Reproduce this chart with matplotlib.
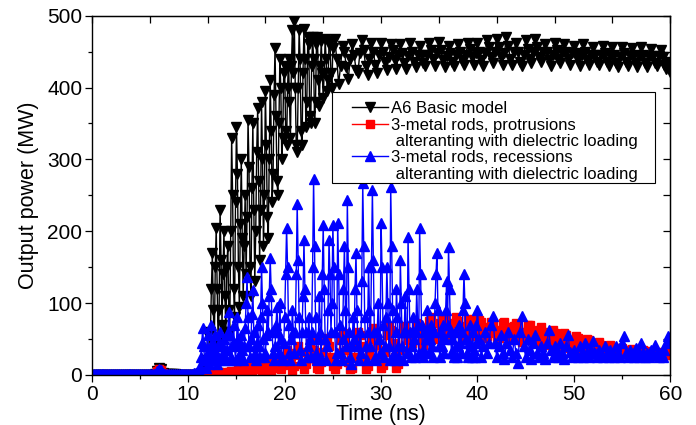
import numpy as np
import matplotlib
matplotlib.use("Agg")
import matplotlib.pyplot as plt
from matplotlib.ticker import MultipleLocator
from matplotlib.lines import Line2D
from matplotlib.patches import Rectangle

plt.rcParams['font.family'] = ['Liberation Sans', 'DejaVu Sans']

# sample times (ns): 0.2 ns steps, 0.1 ns where the signal is busy
t_red = np.linspace(0, 60, 301)
t_black = np.concatenate([np.linspace(0, 10.8, 55), np.linspace(11, 24.9, 140),
                          np.linspace(25, 60, 176)])
t_blue = np.concatenate([np.linspace(0, 10.8, 55), np.linspace(11, 39.9, 290),
                         np.linspace(40, 60, 101)])

# A6 basic model (MW)
black_mw = [
    # 0 - 10.8 ns
    0, 0, 0, 0, 0, 0, 0, 0, 0, 0,
    0, 0, 0, 0, 0, 0, 0, 0, 0, 0,
    0, 0, 0, 0, 0, 0, 0, 0, 0, 0,
    0, 0, 0, 1, 6, 9, 8, 3, 1, 1,
    1, 1, 1, 1, 0, 0, 0, 0, 0, 0,
    0, 0, 0, 0, 0,
    # 11 - 24.9 ns, one row per ns
    0, 1, 1, 2, 2, 3, 5, 8, 12, 20,
    55, 30, 15, 60, 120, 170, 90, 40, 150, 205,
    120, 45, 90, 230, 160, 70, 140, 200, 110, 60,
    150, 180, 90, 60, 200, 330, 250, 120, 80, 240,
    345, 280, 150, 95, 210, 300, 190, 110, 180, 250,
    140, 220, 355, 290, 150, 110, 260, 350, 230, 130,
    200, 310, 372, 270, 160, 230, 380, 300, 180, 250,
    395, 320, 220, 190, 300, 410, 340, 240, 280, 390,
    455, 360, 270, 250, 350, 440, 400, 300, 330, 420,
    430, 340, 320, 400, 440, 380, 330, 430, 480, 420,
    492, 400, 320, 310, 400, 480, 440, 340, 320, 420,
    482, 440, 345, 380, 470, 460, 360, 350, 430, 470,
    440, 350, 380, 460, 470, 410, 375, 430, 465, 420,
    385, 420, 468, 440, 395, 410, 460, 465, 420, 400,
    # 25 - 60 ns
    455, 468, 440, 405, 430,
    458, 450, 428, 412, 440, 460, 446, 425, 420, 448,
    466, 452, 430, 418, 440, 462, 450, 432, 420, 445,
    462, 450, 436, 424, 442, 460, 452, 438, 426, 446,
    460, 448, 434, 426, 444, 462, 450, 436, 428, 446,
    458, 446, 434, 430, 446, 462, 452, 440, 430, 448,
    464, 452, 438, 428, 444, 458, 448, 436, 430, 446,
    460, 450, 438, 432, 446, 462, 454, 442, 432, 448,
    462, 450, 438, 430, 448, 466, 456, 442, 434, 450,
    468, 456, 442, 432, 448, 470, 458, 440, 432, 450,
    462, 450, 436, 430, 446, 466, 454, 440, 434, 450,
    468, 456, 442, 436, 450, 460, 450, 438, 430, 446,
    462, 452, 440, 434, 448, 460, 450, 440, 432, 448,
    458, 448, 438, 430, 446, 460, 450, 438, 432, 446,
    456, 446, 436, 432, 446, 458, 448, 436, 430, 444,
    456, 446, 434, 428, 442, 456, 448, 436, 430, 444,
    455, 446, 434, 428, 444, 456, 446, 434, 428, 442,
    454, 444, 434, 430, 444, 452, 442, 432, 426, 436,
    422,
]

# protrusions alternating with dielectric loading (MW), every 0.2 ns
red_mw = [
    0, 0, 0, 0, 0, 0, 0, 0, 0, 0,
    0, 0, 0, 0, 0, 0, 0, 0, 0, 0,
    0, 0, 0, 0, 0, 0, 0, 0, 0, 0,
    0, 0, 0, 1, 5, 8, 7, 3, 1, 0,
    0, 0, 0, 0, 0, 0, 0, 0, 0, 0,
    0, 0, 0, 0, 0, 0, 0, 0, 0, 1,
    1, 2, 2, 3, 2, 3, 4, 3, 4, 3,
    3, 4, 5, 4, 3, 5, 7, 6, 4, 6,
    10, 14, 8, 4, 8, 15, 18, 10, 5, 9,
    16, 20, 12, 6, 10, 18, 24, 16, 8, 14,
    26, 35, 30, 15, 7, 12, 28, 40, 32, 15,
    8, 15, 30, 45, 48, 35, 20, 10, 8, 18,
    32, 48, 52, 40, 25, 12, 8, 15, 30, 48,
    58, 50, 35, 18, 8, 10, 25, 45, 60, 55,
    40, 22, 8, 12, 28, 50, 65, 60, 42, 22,
    9, 14, 32, 55, 68, 62, 45, 25, 10, 15,
    35, 58, 68, 60, 48, 40, 45, 60, 72, 70,
    60, 48, 42, 48, 62, 75, 80, 72, 58, 50,
    52, 65, 78, 80, 70, 56, 50, 58, 72, 80,
    75, 62, 52, 55, 68, 78, 76, 64, 54, 56,
    66, 76, 74, 62, 52, 54, 66, 74, 70, 58,
    50, 52, 62, 72, 74, 66, 54, 48, 56, 68,
    72, 68, 56, 46, 48, 60, 70, 70, 60, 48,
    44, 50, 62, 66, 60, 48, 42, 46, 56, 62,
    58, 48, 40, 42, 52, 58, 56, 46, 38, 40,
    48, 54, 52, 44, 36, 38, 46, 50, 48, 40,
    34, 36, 44, 46, 42, 36, 32, 34, 40, 42,
    38, 32, 30, 34, 38, 38, 34, 30, 30, 34,
    36, 34, 30, 28, 30, 34, 34, 30, 28, 30,
    33, 32, 29, 28, 30, 32, 31, 28, 27, 30,
    31,
]

# recessions alternating with dielectric loading (MW)
blue_mw = [
    # 0 - 10.8 ns
    1, 1, 1, 1, 1, 1, 1, 1, 1, 1,
    1, 1, 1, 1, 1, 1, 1, 1, 1, 1,
    1, 1, 1, 1, 1, 1, 1, 1, 1, 1,
    1, 1, 1, 1, 5, 8, 7, 3, 1, 1,
    1, 1, 1, 1, 1, 1, 1, 1, 1, 1,
    1, 1, 1, 2, 3,
    # 11 - 39.9 ns, one row per ns
    2, 5, 12, 25, 45, 65, 40, 20, 10, 25,
    55, 35, 15, 30, 70, 45, 20, 35, 55, 30,
    15, 25, 45, 60, 40, 20, 30, 50, 35, 20,
    35, 60, 88, 55, 25, 20, 45, 70, 40, 20,
    45, 81, 50, 25, 30, 55, 35, 20, 40, 65,
    100, 136, 80, 40, 25, 50, 85, 118, 60, 30,
    20, 45, 70, 40, 25, 80, 150, 100, 50, 25,
    30, 55, 90, 60, 110, 162, 120, 60, 30, 20,
    40, 70, 95, 60, 30, 100, 50, 25, 20, 45,
    80, 140, 205, 150, 70, 30, 20, 50, 90, 60,
    30, 60, 140, 238, 160, 80, 35, 20, 60, 110,
    188, 120, 60, 25, 40, 80, 50, 25, 60, 150,
    272, 180, 80, 30, 20, 50, 110, 60, 25, 140,
    208, 120, 50, 20, 40, 90, 188, 140, 60, 100,
    209, 150, 60, 20, 30, 212, 140, 70, 30, 20,
    50, 120, 180, 90, 40, 243, 150, 60, 25, 15,
    40, 80, 50, 120, 170, 90, 40, 20, 60, 30,
    130, 267, 180, 80, 40, 20, 60, 150, 90, 40,
    150, 258, 160, 60, 25, 20, 60, 100, 50, 30,
    212, 150, 70, 25, 40, 80, 150, 100, 40, 20,
    262, 180, 90, 30, 20, 60, 120, 80, 40, 25,
    160, 100, 40, 20, 60, 110, 60, 30, 192, 120,
    60, 25, 40, 80, 50, 25, 60, 120, 70, 30,
    205, 140, 70, 35, 25, 60, 30, 50, 90, 60,
    30, 50, 70, 40, 25, 60, 100, 140, 170, 90,
    40, 25, 60, 40, 70, 30, 50, 90, 130, 70,
    178, 120, 60, 30, 50, 30, 25, 60, 40, 25,
    40, 70, 45, 30, 60, 90, 140, 100, 50, 30,
    25, 45, 70, 40, 25, 60, 35, 25, 45, 70,
    # 40 - 60 ns
    90, 50, 25, 40, 60, 30, 45, 70, 82, 45,
    25, 40, 55, 30, 22, 45, 60, 35, 25, 50,
    30, 17, 60, 82, 40, 25, 50, 35, 22, 45,
    55, 30, 25, 40, 30, 22, 45, 62, 35, 25,
    40, 30, 25, 45, 30, 22, 40, 56, 32, 25,
    35, 28, 25, 40, 30, 25, 45, 30, 25, 35,
    47, 30, 25, 35, 28, 25, 40, 30, 25, 35,
    28, 25, 40, 30, 25, 45, 54, 30, 25, 35,
    28, 25, 38, 30, 25, 45, 32, 25, 30, 25,
    35, 28, 42, 30, 25, 30, 25, 35, 45, 54,
    50,
]

labels = ["A6 Basic model",
          "3-metal rods, protrusions",
          " alteranting with dielectric loading",
          "3-metal rods, recessions",
          " alteranting with dielectric loading"]

fig = plt.figure(figsize=(6.96, 4.25), dpi=100)
ax = fig.add_axes([0.132, 0.118, 0.831, 0.845])

l1, = ax.plot(t_black, black_mw, color='black', lw=1.0, marker='v', ms=7.5, mec='black', mfc='black')
l2, = ax.plot(t_red, red_mw, color='red', lw=1.0, marker='s', ms=6, mec='red', mfc='red')
l3, = ax.plot(t_blue, blue_mw, color='blue', lw=1.0, marker='^', ms=7.5, mec='blue', mfc='blue')

ax.set_xlim(0, 60)
ax.set_ylim(0, 500)
ax.xaxis.set_major_locator(MultipleLocator(10))
ax.xaxis.set_minor_locator(MultipleLocator(5))
ax.yaxis.set_major_locator(MultipleLocator(100))
ax.yaxis.set_minor_locator(MultipleLocator(50))
ax.tick_params(which='both', direction='out', top=False, right=False, labelsize=15, width=0.9)
ax.tick_params(which='major', length=5, pad=2)
ax.tick_params(which='minor', length=3)
for s in ax.spines.values():
    s.set_linewidth(1.0)

top = ax.secondary_xaxis('top')
top.xaxis.set_major_locator(MultipleLocator(6))
top.tick_params(direction='in', length=5, width=0.9, labeltop=False)
right = ax.secondary_yaxis('right')
right.yaxis.set_major_locator(MultipleLocator(50))
right.tick_params(direction='in', length=5, width=0.9, labelright=False)

ax.set_xlabel("Time (ns)", fontsize=15.5, labelpad=0)
ax.set_ylabel("Output power (MW)", fontsize=15.5, labelpad=6)

# legend frame drawn separately so the handles can sit indented
ax.add_patch(Rectangle((0.415, 0.535), 0.559, 0.253, transform=ax.transAxes,
                       facecolor='white', edgecolor='black', lw=0.8, zorder=4))
blank = Line2D([], [], linestyle='none', marker='none')
leg = ax.legend([l1, l2, blank, l3, blank], labels, loc='upper left',
                bbox_to_anchor=(0.45, 0.762), fontsize=12, frameon=False,
                labelspacing=0.08, handlelength=2.15, handletextpad=0.2,
                borderpad=0, borderaxespad=0)
leg.set_zorder(5)

fig.savefig("out.png", dpi=100)
